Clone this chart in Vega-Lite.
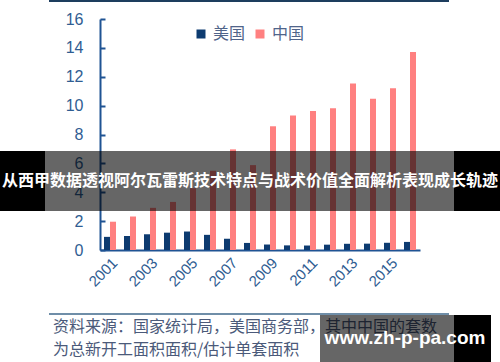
{
  "$schema": "https://vega.github.io/schema/vega-lite/v6.json",
  "width": 320,
  "height": 231,
  "autosize": {"type": "none"},
  "padding": {"left": 100, "top": 19, "right": 80, "bottom": 112},
  "background": "white",
  "config": {"view": {"stroke": null}},
  "layer": [
    {
      "data": {
        "values": [
          {"year": "2001", "country": "美国", "value": 0.91},
          {"year": "2002", "country": "美国", "value": 0.97},
          {"year": "2003", "country": "美国", "value": 1.09},
          {"year": "2004", "country": "美国", "value": 1.2},
          {"year": "2005", "country": "美国", "value": 1.28},
          {"year": "2006", "country": "美国", "value": 1.05},
          {"year": "2007", "country": "美国", "value": 0.78},
          {"year": "2008", "country": "美国", "value": 0.49},
          {"year": "2009", "country": "美国", "value": 0.38},
          {"year": "2010", "country": "美国", "value": 0.32},
          {"year": "2011", "country": "美国", "value": 0.31},
          {"year": "2012", "country": "美国", "value": 0.37},
          {"year": "2013", "country": "美国", "value": 0.43},
          {"year": "2014", "country": "美国", "value": 0.44},
          {"year": "2015", "country": "美国", "value": 0.5},
          {"year": "2016", "country": "美国", "value": 0.56},
          {"year": "2001", "country": "中国", "value": 1.96},
          {"year": "2002", "country": "中国", "value": 2.32},
          {"year": "2003", "country": "中国", "value": 2.92},
          {"year": "2004", "country": "中国", "value": 3.33},
          {"year": "2005", "country": "中国", "value": 4.28},
          {"year": "2006", "country": "中国", "value": 5.49},
          {"year": "2007", "country": "中国", "value": 6.97},
          {"year": "2008", "country": "中国", "value": 5.88},
          {"year": "2009", "country": "中国", "value": 8.57},
          {"year": "2010", "country": "中国", "value": 9.31},
          {"year": "2011", "country": "中国", "value": 9.63},
          {"year": "2012", "country": "中国", "value": 9.81},
          {"year": "2013", "country": "中国", "value": 11.54},
          {"year": "2014", "country": "中国", "value": 10.48},
          {"year": "2015", "country": "中国", "value": 11.21},
          {"year": "2016", "country": "中国", "value": 13.72}
        ]
      },
      "mark": {"type": "bar"},
      "encoding": {
        "x": {
          "field": "year",
          "type": "nominal",
          "scale": {"paddingInner": 0.4, "paddingOuter": 0.2},
          "axis": {
            "title": null,
            "values": ["2001", "2003", "2005", "2007", "2009", "2011", "2013", "2015"],
            "labelAngle": -45,
            "labelFontSize": 15,
            "labelFont": "Liberation Sans",
            "labelColor": "#2f5d92",
            "ticks": false,
            "labelPadding": 5,
            "domainColor": "#1f5393",
            "domainWidth": 2
          }
        },
        "xOffset": {"field": "country", "sort": ["美国", "中国"], "scale": {"paddingInner": 0, "paddingOuter": 0}},
        "y": {
          "field": "value",
          "type": "quantitative",
          "scale": {"domain": [0, 16], "nice": false},
          "axis": {
            "title": null,
            "values": [0, 2, 4, 6, 8, 10, 12, 14, 16],
            "grid": false,
            "labelFontSize": 16,
            "labelFont": "Liberation Sans",
            "labelColor": "#2f5d92",
            "tickSize": -5,
            "tickWidth": 2,
            "tickColor": "#1f5393",
            "labelPadding": 22,
            "domainColor": "#1f5393",
            "domainWidth": 2
          }
        },
        "color": {
          "field": "country",
          "type": "nominal",
          "sort": ["美国", "中国"],
          "scale": {"domain": ["美国", "中国"], "range": ["#0d3b70", "#ff8080"]},
          "legend": {
            "orient": "none",
            "legendX": 93,
            "legendY": 7,
            "direction": "horizontal",
            "title": null,
            "symbolType": "square",
            "symbolSize": 81,
            "symbolStrokeWidth": 0,
            "labelFontSize": 16,
            "labelFont": "Noto Sans CJK SC",
            "labelColor": "#50648a",
            "columnPadding": 6,
            "labelOffset": 4
          }
        }
      }
    },
    {
      "data": {"values": [{}]},
      "mark": {"type": "rule", "color": "#1d3d5e", "strokeWidth": 2},
      "encoding": {"x": {"value": -51}, "x2": {"value": 349}, "y": {"value": -18}}
    },
    {
      "data": {"values": [{}]},
      "mark": {"type": "rule", "color": "#6f8ea8", "strokeWidth": 2},
      "encoding": {"x": {"value": -51}, "x2": {"value": 349}, "y": {"value": 295}}
    },
    {
      "data": {"values": [{}]},
      "mark": {
        "type": "text",
        "text": "资料来源：国家统计局，美国商务部，其中中国的套数",
        "align": "left",
        "baseline": "middle",
        "font": "Noto Sans CJK SC",
        "fontSize": 16,
        "color": "#4b5a7a"
      },
      "encoding": {"x": {"value": -47}, "y": {"value": 308}}
    },
    {
      "data": {"values": [{}]},
      "mark": {
        "type": "text",
        "text": "为总新开工面积面积/估计单套面积",
        "align": "left",
        "baseline": "middle",
        "font": "Noto Sans CJK SC",
        "fontSize": 16,
        "color": "#4b5a7a"
      },
      "encoding": {"x": {"value": -47}, "y": {"value": 331}}
    },
    {
      "data": {"values": [{}]},
      "mark": {"type": "rect", "color": "black", "opacity": 0.6},
      "encoding": {"x": {"value": 220}, "x2": {"value": 354}, "y": {"value": 296}, "y2": {"value": 343}}
    },
    {
      "data": {"values": [{}]},
      "mark": {"type": "rect", "color": "black", "opacity": 1},
      "encoding": {"x": {"value": 354}, "x2": {"value": 391}, "y": {"value": 296}, "y2": {"value": 343}}
    },
    {
      "data": {"values": [{}]},
      "mark": {"type": "text", "text": "www.zh-p-pa.com", "font": "Liberation Sans", "fontWeight": "bold", "fontSize": 19, "color": "white", "align": "center", "baseline": "middle"},
      "encoding": {"x": {"value": 305}, "y": {"value": 319}}
    },
    {
      "data": {"values": [{}]},
      "mark": {"type": "rect", "color": "black", "opacity": 1},
      "encoding": {"x": {"value": -100}, "x2": {"value": -55}, "y": {"value": 132}, "y2": {"value": 192}}
    },
    {
      "data": {"values": [{}]},
      "mark": {"type": "rect", "color": "black", "opacity": 1},
      "encoding": {"x": {"value": 354}, "x2": {"value": 400}, "y": {"value": 132}, "y2": {"value": 192}}
    },
    {
      "data": {"values": [{}]},
      "mark": {"type": "rect", "color": "black", "opacity": 0.6},
      "encoding": {"x": {"value": -55}, "x2": {"value": 354}, "y": {"value": 132}, "y2": {"value": 192}}
    },
    {
      "data": {"values": [{}]},
      "mark": {"type": "text", "text": "从西甲数据透视阿尔瓦雷斯技术特点与战术价值全面解析表现成长轨迹", "font": "Noto Sans CJK SC", "fontWeight": "bold", "fontSize": 16, "color": "white", "align": "center", "baseline": "middle"},
      "encoding": {"x": {"value": 150}, "y": {"value": 162}}
    }
  ]
}
